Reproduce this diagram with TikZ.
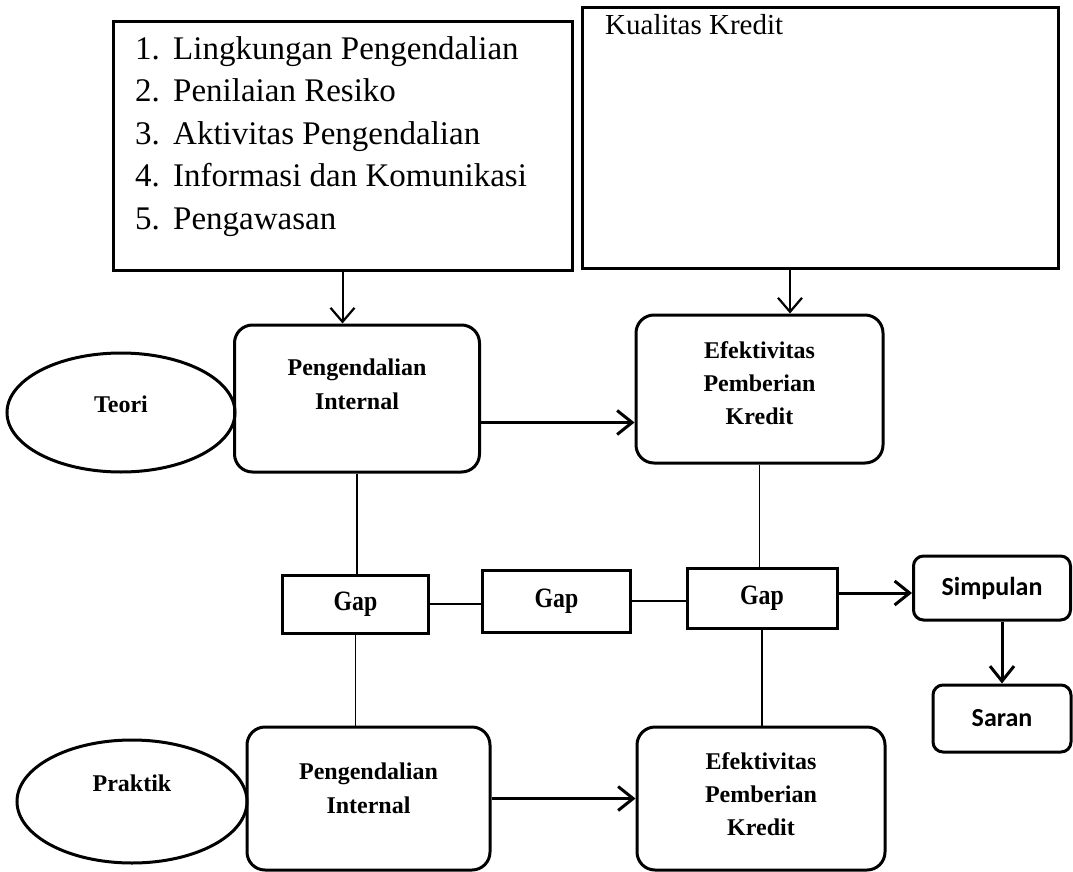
\documentclass[tikz,border=0pt]{standalone}
\usepackage{fontspec}
\setmainfont{Liberation Serif}
\newfontfamily\sansfam{Carlito}
\usetikzlibrary{arrows.meta,shapes.geometric,calc}
\newcommand{\liftbox}[2]{\raisebox{#1}[0pt][0pt]{\begin{tabular}{@{}c@{}}#2\end{tabular}}}
\begin{document}
\begin{tikzpicture}[x=1pt,y=-1pt,
  rbox/.style={draw,line width=3pt,rounded corners=18pt,inner sep=0pt,font=\bfseries\fontsize{24}{34}\selectfont},
  ebox/.style={rbox,font=\bfseries\fontsize{24}{33}\selectfont},
  gbox/.style={draw,line width=3pt,inner sep=0pt,font=\bfseries\fontsize{28}{32}\selectfont},
  sbox/.style={draw,line width=3pt,rounded corners=10pt,inner sep=0pt,font=\sansfam\bfseries\fontsize{26}{30}\selectfont},
  oval/.style={draw,ellipse,line width=3pt,inner sep=0pt,font=\bfseries\fontsize{24}{29}\selectfont},
  sq/.style={draw,line width=3pt,inner sep=0pt},
  conn/.style={line width=1.8pt},
  arr/.style={line width=3pt,-{Straight Barb[length=15pt,width=24pt,line width=3pt]}},
  arrthin/.style={line width=2pt,-{Straight Barb[length=14pt,width=24pt,line width=2.2pt]}}
]
\useasboundingbox (0,0) rectangle (1073,872);

% top boxes
\node[sq,minimum width=459pt,minimum height=248pt] (lst) at (342.5,146) {};
\node[anchor=north west,inner sep=0pt,align=left,font=\fontsize{33}{42.5}\selectfont] (lsttxt) at (135,36)
  {\makebox[38pt][l]{1.}Lingkungan Pengendalian\\
   \makebox[38pt][l]{2.}Penilaian Resiko\\
   \makebox[38pt][l]{3.}Aktivitas Pengendalian\\
   \makebox[38pt][l]{4.}Informasi dan Komunikasi\\
   \makebox[38pt][l]{5.}Pengawasan};
\node[sq,minimum width=476pt,minimum height=260pt] (kk) at (820,138) {};
\node[anchor=base west,inner sep=0pt,font=\fontsize{29}{35}\selectfont] (kktxt) at (605,35) {Kualitas Kredit};

% theory row
\node[rbox,minimum width=245pt,minimum height=147pt] (piT) at (357,398.5) {\liftbox{6.5pt}{Pengendalian\\Internal}};
\node[oval,minimum width=228pt,minimum height=119pt] (teori) at (121,412.5) {\raisebox{0pt}[0pt][0pt]{Teori}};
\node[ebox,minimum width=247pt,minimum height=148pt] (epkT) at (759.5,389) {\liftbox{-2.5pt}{Efektivitas\\Pemberian\\Kredit}};

% gap row
\node[gbox,minimum width=146pt,minimum height=58pt] (g1) at (355.5,604) {\scalebox{0.85}[1]{Gap}};
\node[gbox,minimum width=148pt,minimum height=62pt] (g2) at (556.5,601) {\scalebox{0.85}[1]{Gap}};
\node[gbox,minimum width=150pt,minimum height=60pt] (g3) at (762,598) {\scalebox{0.85}[1]{Gap}};
\node[sbox,minimum width=157pt,minimum height=64pt] (sim) at (992,588) {Simpulan};
\node[sbox,minimum width=138pt,minimum height=67pt] (sar) at (1002,718.5) {Saran};

% practice row
\node[rbox,minimum width=243pt,minimum height=143pt] (piB) at (368.5,798.5) {\liftbox{2.5pt}{Pengendalian\\Internal}};
\node[oval,minimum width=230pt,minimum height=123pt] (prak) at (132,801.5) {\raisebox{10pt}[0pt][0pt]{Praktik}};
\node[ebox,minimum width=248pt,minimum height=143pt] (epkB) at (761,798.5) {\liftbox{-3.5pt}{Efektivitas\\Pemberian\\Kredit}};

% connectors
\draw[arrthin] (lst.south) -- (lst.south |- piT.north);
\draw[arrthin] ([xshift=-30pt]kk.south) -- ([xshift=-30pt]kk.south |- epkT.north);
\coordinate (a1) at ([yshift=-24pt]piT.east);
\draw[arr] (a1) -- (a1 -| epkT.west);
\draw[conn] (piT.south) -- (piT.south |- g1.north);
\draw[conn] (g1.south) -- (g1.south |- piB.north);
\draw[conn] (epkT.south) -- (epkT.south |- g3.north);
\draw[conn] (g3.south) -- (g3.south |- epkB.north);
\draw[conn] (g1.east) -- (g1.east -| g2.west);
\draw[conn] (g2.east) -- (g2.east -| g3.west);
\coordinate (a2) at ([yshift=5pt]g3.east);
\draw[arr] (a2) -- (a2 -| sim.west);
\draw[arr] (sar.north |- sim.south) -- (sar.north);
\draw[arr] (piB.east) -- (piB.east -| epkB.west);
\end{tikzpicture}
\end{document}
